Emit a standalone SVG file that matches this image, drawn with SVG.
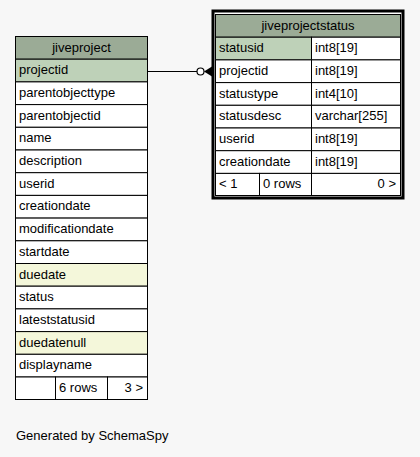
<svg xmlns="http://www.w3.org/2000/svg" width="420" height="457" viewBox="0 0 420 457">
<style>
text{font-family:"Liberation Sans",Arial,sans-serif;font-size:13px;fill:#000}
.c{fill:#fff;stroke:#000;stroke-width:1}
.h{fill:#9bab96;stroke:#000;stroke-width:1}
.k{fill:#bed1b8;stroke:#000;stroke-width:1}
.y{fill:#f4f7da;stroke:#000;stroke-width:1}
.m{text-anchor:middle}
.r{text-anchor:end}
</style>
<rect width="420" height="457" fill="#f7f7f7"/>
<g id="connectors">
<line x1="148" y1="71.5" x2="197" y2="71.5" stroke="#000" stroke-width="1"/>
<circle cx="200.5" cy="71.5" r="3.5" fill="#fff" stroke="#000" stroke-width="1.2"/>
<path d="M204,71.5 L212,66.5 L212,76.5 Z" fill="#000"/>
</g>
<g id="jiveproject">
<rect x="15.5" y="36.5" width="132" height="363" fill="#fff" stroke="#000"/>
<rect class="h" x="15.5" y="36.5" width="132" height="22.7"/>
<text class="m" x="81.5" y="51.7">jiveproject</text>
<rect class="k" x="15.5" y="59.2" width="132" height="22.7"/>
<text x="19" y="74.2">projectid</text>
<rect class="c" x="15.5" y="81.9" width="132" height="22.7"/>
<text x="19" y="96.9">parentobjecttype</text>
<rect class="c" x="15.5" y="104.6" width="132" height="22.7"/>
<text x="19" y="119.6">parentobjectid</text>
<rect class="c" x="15.5" y="127.3" width="132" height="22.7"/>
<text x="19" y="142.3">name</text>
<rect class="c" x="15.5" y="150" width="132" height="22.7"/>
<text x="19" y="165">description</text>
<rect class="c" x="15.5" y="172.7" width="132" height="22.7"/>
<text x="19" y="187.7">userid</text>
<rect class="c" x="15.5" y="195.4" width="132" height="22.7"/>
<text x="19" y="210.4">creationdate</text>
<rect class="c" x="15.5" y="218.1" width="132" height="22.7"/>
<text x="19" y="233.1">modificationdate</text>
<rect class="c" x="15.5" y="240.8" width="132" height="22.7"/>
<text x="19" y="255.8">startdate</text>
<rect class="y" x="15.5" y="263.5" width="132" height="22.7"/>
<text x="19" y="278.5">duedate</text>
<rect class="c" x="15.5" y="286.2" width="132" height="22.7"/>
<text x="19" y="301.2">status</text>
<rect class="c" x="15.5" y="308.9" width="132" height="22.7"/>
<text x="19" y="323.9">lateststatusid</text>
<rect class="y" x="15.5" y="331.6" width="132" height="22.7"/>
<text x="19" y="346.6">duedatenull</text>
<rect class="c" x="15.5" y="354.3" width="132" height="22.7"/>
<text x="19" y="369.3">displayname</text>
<rect class="c" x="15.5" y="377" width="40" height="22.5"/>
<rect class="c" x="55.5" y="377" width="52" height="22.5"/>
<text x="59" y="392">6 rows</text>
<rect class="c" x="107.5" y="377" width="40" height="22.5"/>
<text class="r" x="143" y="392">3 &gt;</text>
</g>
<g id="jiveprojectstatus">
<rect x="213" y="11" width="190" height="187" fill="#fff" stroke="#000" stroke-width="3"/>
<rect class="h" x="215.5" y="14.5" width="185" height="22.7"/>
<text class="m" x="308" y="29.7">jiveprojectstatus</text>
<rect class="k" x="215.5" y="37.2" width="96" height="22.7"/>
<text x="219" y="52.2">statusid</text>
<rect class="c" x="311.5" y="37.2" width="89" height="22.7"/>
<text x="315" y="52.2">int8[19]</text>
<rect class="c" x="215.5" y="59.9" width="96" height="22.7"/>
<text x="219" y="74.9">projectid</text>
<rect class="c" x="311.5" y="59.9" width="89" height="22.7"/>
<text x="315" y="74.9">int8[19]</text>
<rect class="c" x="215.5" y="82.6" width="96" height="22.7"/>
<text x="219" y="97.6">statustype</text>
<rect class="c" x="311.5" y="82.6" width="89" height="22.7"/>
<text x="315" y="97.6">int4[10]</text>
<rect class="c" x="215.5" y="105.3" width="96" height="22.7"/>
<text x="219" y="120.3">statusdesc</text>
<rect class="c" x="311.5" y="105.3" width="89" height="22.7"/>
<text x="315" y="120.3">varchar[255]</text>
<rect class="c" x="215.5" y="128" width="96" height="22.7"/>
<text x="219" y="143">userid</text>
<rect class="c" x="311.5" y="128" width="89" height="22.7"/>
<text x="315" y="143">int8[19]</text>
<rect class="c" x="215.5" y="150.7" width="96" height="22.7"/>
<text x="219" y="165.7">creationdate</text>
<rect class="c" x="311.5" y="150.7" width="89" height="22.7"/>
<text x="315" y="165.7">int8[19]</text>
<rect class="c" x="215.5" y="173.4" width="44" height="22.1"/>
<text x="219" y="188.2">&lt; 1</text>
<rect class="c" x="259.5" y="173.4" width="52" height="22.1"/>
<text x="263" y="188.2">0 rows</text>
<rect class="c" x="311.5" y="173.4" width="89" height="22.1"/>
<text class="r" x="396" y="188.2">0 &gt;</text>
</g>
<text x="16" y="440">Generated by SchemaSpy</text>
</svg>
